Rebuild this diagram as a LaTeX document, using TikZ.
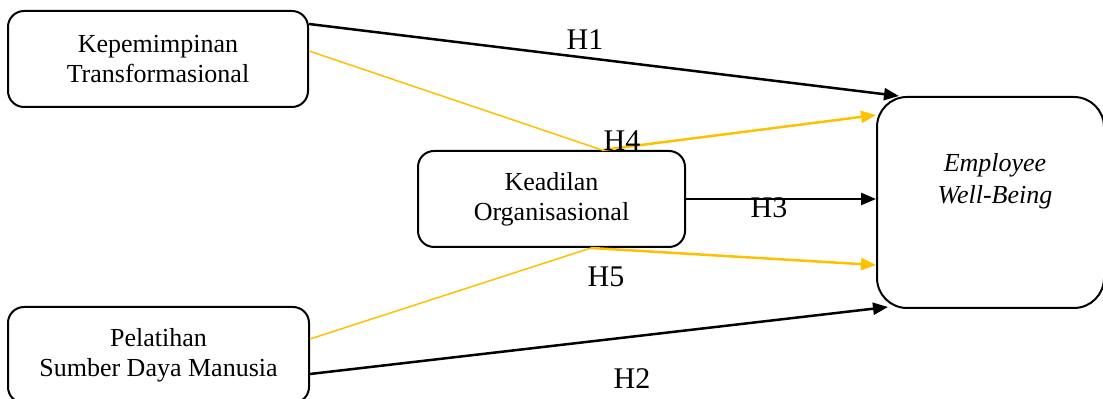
\documentclass[tikz,border=0pt]{standalone}
\usepackage{fontspec}
\setmainfont{Liberation Serif}
\usepackage{xcolor}
\usepackage{tikz}
\usetikzlibrary{calc,arrows.meta,positioning}

\definecolor{kuning}{HTML}{FFC000}

\begin{document}
\begin{tikzpicture}[x=0.5pt,y=-0.5pt,font=\fontsize{13}{15}\selectfont]

\tikzset{kotak/.style={draw,line width=1pt,rounded corners=8pt,align=center,inner sep=0pt},
  panah/.style={line width=1.25pt,-{Triangle[length=7.5pt,width=6pt]}},
  garis/.style={draw=kuning,line width=0.75pt},
  panahk/.style={draw=kuning,line width=1.25pt,-{Triangle[length=7.5pt,width=6pt]},color=kuning},
  hipo/.style={font=\fontsize{15}{17}\selectfont}}

\useasboundingbox (0,0) rectangle (1103,399);

% variabel
\node[kotak,minimum width=150pt,minimum height=48pt] (kep) at (158,59) {Kepemimpinan\\Transformasional};
\node[kotak,minimum width=133.5pt,minimum height=48pt] (kead) at (551.5,199) {Keadilan\\Organisasional};
\node[kotak,minimum width=150.5pt,minimum height=48pt] (pel) at (158.5,355) {Pelatihan\\Sumber Daya Manusia};
\node[kotak,rounded corners=15pt,minimum width=113.5pt,minimum height=105.5pt] (wb) at (990.5,202.5) {};
\node[font=\fontsize{13}{16}\selectfont\itshape,align=center] (wbteks) at (995,181) {Employee\\Well-Being};

% titik bantu
\coordinate (k1) at ($(kep.north east)+(0,14)$);
\coordinate (k2) at ($(kep.north east)+(0,41)$);
\coordinate (w1) at ($(wb.north west)+(23,0)$);
\coordinate (w4) at ($(wb.north west)+(0,19)$);
\coordinate (w5) at ($(wb.north west)+(0,169)$);
\coordinate (w2) at ($(wb.south west)+(12,-2)$);
\coordinate (a4) at ($(kead.north west)+(185,0)$);
\coordinate (a5) at ($(kead.south west)+(174,0)$);
\coordinate (p1) at ($(pel.north east)+(0,33)$);
\coordinate (p2) at ($(pel.north east)+(0,68)$);

% jalur langsung
\draw[panah] (k1) -- (w1);
\draw[panah] (kead.east) -- (kead.east -| wb.west);
\draw[panah] (p2) -- (w2);

% jalur mediasi
\draw[garis] (k2) -- (a4);
\draw[panahk] (a4) -- (w4);
\draw[garis] (p1) -- (a5);
\draw[panahk] (a5) -- (w5);

\node[hipo] (h1) at (585,40) {H1};
\node[hipo] (h4) at (622,141) {H4};
\node[hipo] (h3) at (769,208) {H3};
\node[hipo] (h5) at (606,277) {H5};
\node[hipo] (h2) at (632,379) {H2};

\end{tikzpicture}
\end{document}
